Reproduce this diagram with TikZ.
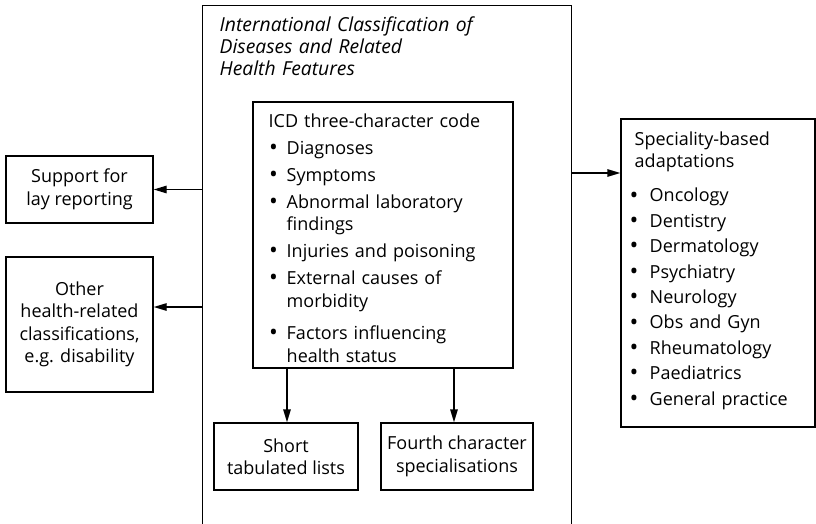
\documentclass[tikz,border=0pt]{standalone}
\usepackage{fontspec}
\setmainfont{Open Sans}
\usetikzlibrary{arrows.meta}

% bulleted line with a hanging indent; use \newline for a second line
\newlength\bulind
\newlength\bulofs
\newcommand\bulmark{\raisebox{-1.2pt}{\scalebox{1.3}{\textbullet}}}
\newcommand\bul[2][4.5pt]{\par\vspace{#1}\hangindent=\bulind\hangafter=1\noindent\makebox[\bulind][l]{\hspace{\bulofs}\bulmark}#2}

\begin{document}
\begin{tikzpicture}[x=1pt,y=-1pt,line width=1.4pt,
  box/.style={draw,rectangle,inner sep=0pt,align=center,
    font=\fontsize{18}{22.5}\selectfont},
  frame/.style={draw,rectangle,inner sep=0pt},
  txt/.style={inner sep=0pt,anchor=base west,align=left},
  arr/.style={-{Triangle[length=13pt,width=7.5pt]}}]
\useasboundingbox[fill=white] (0,0) rectangle (816,523);

% outer classification frame (open at the bottom)
\node[minimum width=368pt,minimum height=540pt,inner sep=0pt] (icd) at (387,276) {};
\draw (icd.south west) -- (icd.north west) -- (icd.north east) -- (icd.south east);
\node[txt,text width=345pt,font=\fontsize{19.3}{21.7}\selectfont\itshape] (title) at (219,31.7)
  {International Classification of\\Diseases and Related\\Health Features};

% three-character code box
\node[frame,minimum width=260pt,minimum height=266pt] (code) at (383,235) {};
\node[txt,text width=244pt,font=\fontsize{18}{22.5}\selectfont] (codetext) at (268,127)
  {\setlength\bulind{18pt}\setlength\bulofs{0.5pt}%
   ICD three-character code
   \bul{Diagnoses}
   \bul{Symptoms}
   \bul{Abnormal laboratory\newline findings}
   \bul{Injuries and poisoning}
   \bul{External causes of\newline morbidity}
   \bul[10pt]{Factors influencing\newline health status}\par};

% side boxes
\node[box,minimum width=147pt,minimum height=67pt] (lay) at (79.5,189.5) {Support for\\lay reporting};
\node[box,minimum width=147pt,minimum height=135pt] (other) at (79.5,324.5)
  {Other\\health-related\\classifications,\\e.g. disability};
\node[box,minimum width=144pt,minimum height=67pt] (short) at (286,456.5) {Short\\tabulated lists};
\node[box,minimum width=152pt,minimum height=67pt] (fourth) at (457,456.5) {Fourth character\\specialisations};

% speciality adaptations
\node[frame,minimum width=194pt,minimum height=308pt] (spec) at (718,273) {};
\node[txt,text width=178pt,font=\fontsize{18}{21.5}\selectfont] (spectext) at (634,145.7)
  {\setlength\bulind{15pt}\setlength\bulofs{-5pt}%
   Speciality-based\\adaptations
   \bul[13.2pt]{Oncology}
   \bul[3.9pt]{Dentistry}
   \bul[3.9pt]{Dermatology}
   \bul[3.9pt]{Psychiatry}
   \bul[3.9pt]{Neurology}
   \bul[3.9pt]{Obs and Gyn}
   \bul[3.9pt]{Rheumatology}
   \bul[3.9pt]{Paediatrics}
   \bul[3.9pt]{General practice}\par};

% connectors
\draw[arr] (icd.west |- lay.east) -- (lay.east);
\draw[arr] (icd.west |- 0,307) -- (other.east |- 0,307);
\draw[arr] (icd.east |- 0,173) -- (spec.west |- 0,173);
\draw[arr] ([xshift=1pt]code.south -| short.north) -- ([xshift=1pt]short.north);
\draw[arr] ([xshift=-3pt]code.south -| fourth.north) -- ([xshift=-3pt]fourth.north);
\end{tikzpicture}
\end{document}
